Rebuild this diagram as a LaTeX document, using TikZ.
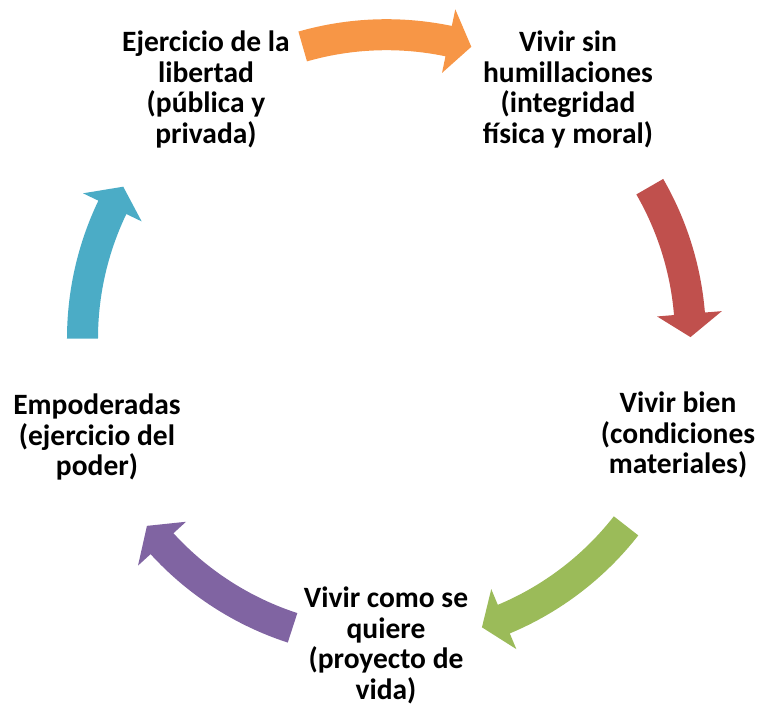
\documentclass[tikz,border=0pt]{standalone}
\usepackage{fontspec}
\setmainfont{Carlito}
\usetikzlibrary{positioning}
\definecolor{CycOrange}{HTML}{F79646}
\definecolor{CycRed}{HTML}{C0504D}
\definecolor{CycGreen}{HTML}{9BBB59}
\definecolor{CycPurple}{HTML}{8064A2}
\definecolor{CycTeal}{HTML}{4BACC6}

\begin{document}
\begin{tikzpicture}[x=1pt,y=1pt,every node/.style={font=\fontsize{29.5}{30.6}\selectfont\bfseries,align=center,anchor=base,inner sep=0pt}]
    \useasboundingbox (-386.5,-367.3) rectangle (371.5,338.7);
    \coordinate (hub) at (0,0);
    % base = baseline of the last line
    \node (libertad) at (-180.5,195.2) {Ejercicio de la\\libertad\\(pública y\\privada)};
    \node (humillaciones) at (181.5,195.2) {Vivir sin\\humillaciones\\(integridad\\física y moral)};
    \node (bien) at (291.5,-135) {Vivir bien\\(condiciones\\materiales)};
    \node (proyecto) at (-0.5,-360.5) {Vivir como se\\quiere\\(proyecto de\\vida)};
    \node (poder) at (-289.5,-137) {Empoderadas\\(ejercicio del\\poder)};
    \foreach \a/\b/\c in {106/73.8/CycOrange,30/0.3/CycRed,-38/-71.7/CycGreen,-108/-142/CycPurple,180/150/CycTeal}{
      \pgfmathsetmacro\h{\b+4.4}
      \fill[\c] (\a:319.5) arc[start angle=\a,end angle=\h,radius=319.5] -- (\h:336.5) -- (\b:304) -- (\h:271.5) -- (\h:288.5) arc[start angle=\h,end angle=\a,radius=288.5] -- cycle;
    }
  \end{tikzpicture}
\end{document}
